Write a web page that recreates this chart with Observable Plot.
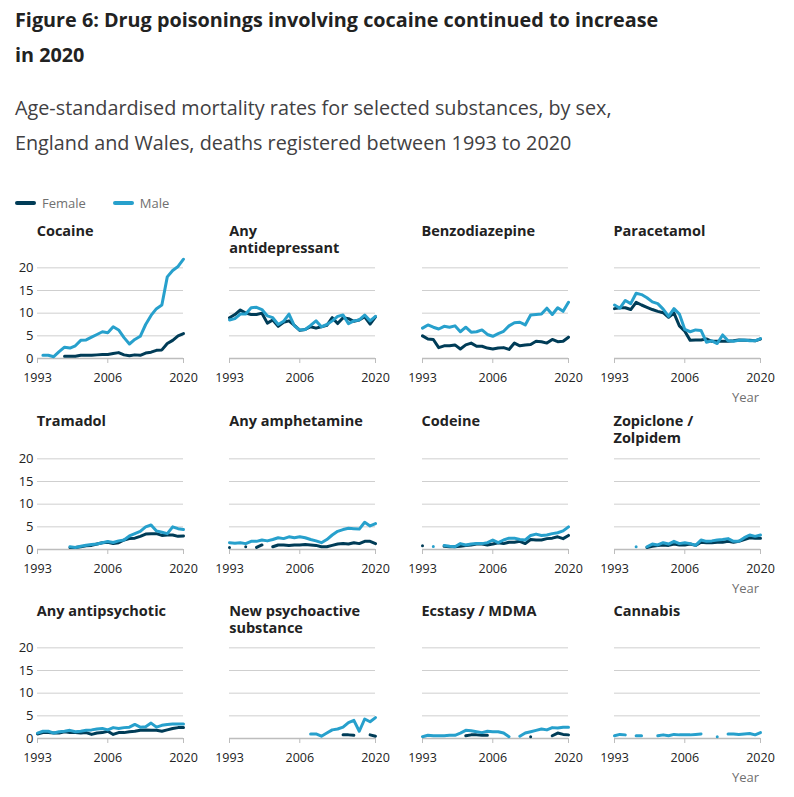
<!DOCTYPE html>
<html><head><meta charset="utf-8">
<script src="https://cdn.jsdelivr.net/npm/d3@7"></script>
<script src="https://cdn.jsdelivr.net/npm/@observablehq/plot@0.6"></script>
<style>
body{margin:0;background:#fff;font-family:"Open Sans",sans-serif;}
#root{position:relative;width:794px;height:797px;overflow:hidden;}
.title{position:absolute;left:15px;top:2px;font-size:19.8px;font-weight:700;line-height:35px;color:#222;white-space:nowrap;}
.sub{position:absolute;left:15px;top:90px;font-size:19.8px;line-height:35px;color:#414042;white-space:nowrap;}
.legend{position:absolute;left:15px;top:194px;font-size:13px;color:#707070;display:flex;align-items:center;height:18px;}
.legend .sw{display:inline-block;width:21px;height:4px;border-radius:2px;margin-right:6px;}
.legend .item{display:flex;align-items:center;margin-right:27px;}
.ptitle{position:absolute;font-size:14.5px;font-weight:700;line-height:17px;color:#222;}
.plot{position:absolute;}
.year{position:absolute;font-size:13px;color:#707070;line-height:16px;}
</style></head>
<body><div id="root">
<div class="title">Figure 6: Drug poisonings involving cocaine continued to increase<br>in 2020</div>
<div class="sub">Age-standardised mortality rates for selected substances, by sex,<br>England and Wales, deaths registered between 1993 to 2020</div>
</div>
<script>
const years = d3.range(1993, 2021);
const sexes = ["Female", "Male"];
const colors = ["#003c57", "#27a0cc"];
const xTicks = [1993, 2006, 2020];
const yTicks = [0, 5, 10, 15, 20];
const titles = ["Cocaine", "Any\nantidepressant", "Benzodiazepine", "Paracetamol",
  "Tramadol", "Any amphetamine", "Codeine", "Zopiclone /\nZolpidem",
  "Any antipsychotic", "New psychoactive\nsubstance", "Ecstasy / MDMA", "Cannabis"];
const N = null;
const cocaineF = [N,N,N,N,N,0.5,0.5,0.5,0.7,0.7,0.7,0.8,0.9,0.9,1.1,1.3,0.8,0.6,0.8,0.7,1.2,1.4,1.8,1.9,3.3,4.0,5.0,5.5];
const cocaineM = [N,0.7,0.7,0.4,1.5,2.5,2.3,2.8,4.0,4.1,4.7,5.3,5.9,5.7,7.0,6.3,4.6,3.2,4.2,4.9,7.5,9.5,11.0,11.8,18.0,19.4,20.3,21.9];
const antidepF = [9.0,9.7,10.7,10.0,9.7,9.7,10.0,7.8,8.5,7.1,8.0,8.3,7.3,6.2,6.4,7.0,6.7,7.0,7.3,9.0,7.7,9.0,8.8,8.2,8.5,9.2,7.6,9.2];
const antidepM = [8.5,8.8,9.8,9.8,11.2,11.3,10.8,9.4,9.0,7.5,8.2,9.8,7.2,6.3,6.4,7.3,8.3,7.0,7.5,8.3,9.3,9.6,7.7,8.3,8.5,9.6,8.3,9.3];
const benzoF = [5.0,4.3,4.2,2.4,2.8,2.8,3.0,2.1,3.0,3.4,2.7,2.7,2.3,2.1,2.3,2.4,2.0,3.4,2.8,3.0,3.1,3.8,3.7,3.4,4.2,3.7,3.8,4.7];
const benzoM = [6.7,7.4,6.9,6.5,7.1,6.9,7.2,5.9,6.9,5.8,5.9,6.3,5.3,4.9,5.5,6.0,7.2,7.9,8.0,7.4,9.6,9.7,9.8,11.1,9.7,11.2,10.4,12.4];
const paraF = [11.0,11.2,11.2,10.8,12.4,11.8,11.3,10.8,10.4,10.1,9.1,10.0,7.2,6.0,4.0,4.1,4.1,4.3,3.8,3.8,3.8,3.8,3.9,4.1,4.0,4.0,3.9,4.3];
const paraM = [11.8,11.1,12.8,12.1,14.4,14.1,13.4,12.5,12.1,10.9,9.3,11.0,9.8,6.4,5.9,6.3,6.2,3.6,3.9,3.3,5.2,3.9,3.8,4.0,4.1,3.9,3.9,4.4];
const tramadolF = [N,N,N,N,N,N,0.45,0.45,0.6,0.8,0.9,1.2,1.5,1.6,1.3,1.5,2.1,2.4,2.5,2.9,3.4,3.5,3.5,3.1,3.2,3.2,2.9,3.0];
const tramadolM = [N,N,N,N,N,N,0.6,0.45,0.7,0.95,1.1,1.2,1.5,1.75,1.55,1.9,2.1,3.0,3.5,4.0,5.0,5.4,4.1,3.8,3.5,5.0,4.6,4.4];
const amphF = [0.45,N,N,0.6,N,0.45,1.0,N,0.6,1.0,1.0,0.9,1.0,1.0,1.1,1.0,0.9,0.6,0.6,0.9,1.2,1.3,1.2,1.5,1.3,1.8,1.8,1.3];
const amphM = [1.5,1.4,1.5,1.3,1.8,1.8,2.1,1.9,2.2,2.6,2.4,2.8,2.6,2.8,2.6,2.2,1.9,1.5,2.2,3.2,4.0,4.4,4.7,4.6,4.5,6.0,5.2,5.7];
const codeineF = [0.8,N,N,N,0.7,0.6,0.6,0.7,0.9,1.0,1.2,1.2,1.0,1.2,1.5,1.3,1.6,1.6,1.8,1.3,2.2,2.1,2.1,2.4,2.5,2.8,2.4,3.1];
const codeineM = [N,N,0.65,N,0.9,0.7,0.6,1.3,1.0,1.2,1.3,1.3,1.5,2.1,1.5,2.1,2.5,2.5,2.2,2.1,3.1,3.4,3.1,3.2,3.5,3.7,4.1,5.0];
const zopF = [N,N,N,N,N,N,0.45,0.7,0.9,1.0,0.9,1.2,1.0,1.0,1.2,0.9,1.6,1.5,1.5,1.6,1.6,1.8,1.6,1.8,2.2,2.6,2.5,2.5];
const zopM = [N,N,N,N,0.6,N,0.6,1.2,1.0,1.5,1.2,1.8,1.3,1.5,1.3,0.9,2.1,1.8,1.9,2.1,2.2,2.4,1.8,1.8,2.6,3.2,2.9,3.2];
const antipsyF = [1.0,1.3,1.3,1.2,1.2,1.5,1.3,1.3,1.2,1.3,0.9,1.2,1.3,1.6,0.9,1.3,1.3,1.5,1.6,1.8,1.9,1.8,1.8,1.6,1.9,2.2,2.4,2.4];
const antipsyM = [1.2,1.6,1.6,1.2,1.5,1.6,1.8,1.5,1.6,1.8,1.9,2.1,2.2,1.9,2.4,2.2,2.4,2.5,3.1,2.5,2.6,3.4,2.5,2.9,3.1,3.2,3.2,3.2];
const npsF = [N,N,N,N,N,N,N,N,N,N,N,N,N,N,N,N,N,N,N,N,N,0.8,0.8,0.7,N,N,0.8,0.5];
const npsM = [N,N,N,N,N,N,N,N,N,N,N,N,N,N,N,1.0,1.0,0.5,1.2,1.9,2.1,2.5,3.5,4.0,1.6,4.3,3.7,4.6];
const ecstasyF = [N,N,N,N,N,N,N,N,0.6,0.8,0.8,0.7,0.7,N,N,N,N,N,N,N,0.4,N,N,N,0.6,1.2,0.9,0.8];
const ecstasyM = [0.4,0.7,0.6,0.6,0.6,0.7,0.7,1.2,1.8,1.7,1.5,1.3,1.6,1.5,1.5,1.2,0.4,N,0.5,1.2,1.5,1.8,2.1,1.9,2.4,2.3,2.5,2.5];
const cannabisF = years.map(() => N);
const cannabisM = [0.6,0.9,0.8,N,0.6,0.6,N,N,0.6,0.8,0.6,0.9,0.8,0.8,0.8,0.9,1.0,N,N,0.4,N,1.0,1.0,0.9,1.0,1.1,0.8,1.3];

const series = [
  [cocaineF, cocaineM], [antidepF, antidepM], [benzoF, benzoM], [paraF, paraM],
  [tramadolF, tramadolM], [amphF, amphM], [codeineF, codeineM], [zopF, zopM],
  [antipsyF, antipsyM], [npsF, npsM], [ecstasyF, ecstasyM], [cannabisF, cannabisM]
];

const root = document.getElementById("root");
// legend
const leg = document.createElement("div");
leg.className = "legend";
sexes.forEach((s, i) => {
  const it = document.createElement("span");
  it.className = "item";
  it.innerHTML = `<span class="sw" style="background:${colors[i]}"></span>${s}`;
  leg.appendChild(it);
});
root.appendChild(leg);

const colLeft = [36.7, 229.2, 421.5, 613.5];
const rowZero = [358.3, 548.5, 738.3];
const mL = 30, mR = 15, mT = 8, mB = 26, inner = 146, innerH = 102;

series.forEach(([f, m], k) => {
  const col = k % 4, row = Math.floor(k / 4);
  const data = [];
  years.forEach((y, i) => data.push({year: y, value: f[i], sex: "Female"}));
  years.forEach((y, i) => data.push({year: y, value: m[i], sex: "Male"}));
  const t = document.createElement("div");
  t.className = "ptitle";
  t.style.left = colLeft[col] + "px";
  t.style.top = (rowZero[row] - 136.5) + "px";
  t.innerHTML = titles[k].replace("\n", "<br>");
  root.appendChild(t);
  const chart = Plot.plot({
    width: mL + inner + mR,
    height: mT + innerH + mB,
    marginLeft: mL, marginRight: mR, marginTop: mT, marginBottom: mB,
    style: {fontFamily: "Open Sans", fontSize: "12.5px", color: "#222", background: "transparent", overflow: "visible"},
    x: {domain: [1993, 2020]},
    y: {domain: [0, 22.5]},
    color: {domain: sexes, range: colors},
    marks: [
      Plot.gridY([5, 10, 15, 20], {stroke: "#cfcfcf", strokeOpacity: 1}),
      Plot.ruleY([0], {stroke: "#bdbdbd", strokeWidth: 1.5}),
      Plot.axisX(xTicks, {tickSize: 5, tickPadding: 10, stroke: "#bdbdbd", fill: "#222", tickFormat: d => String(d), label: null}),
      col === 0
        ? Plot.axisY(yTicks, {tickSize: 0, tickPadding: 4, fill: "#222", label: null, fontSize: 13})
        : Plot.axisY([], {label: null}),
      Plot.line(data, {x: "year", y: "value", z: "sex", stroke: "sex", strokeWidth: 3, strokeLinecap: "round", strokeLinejoin: "round"})
    ]
  });
  const wrap = document.createElement("div");
  wrap.className = "plot";
  wrap.style.left = (colLeft[col] - mL) + "px";
  wrap.style.top = (rowZero[row] - mT - innerH) + "px";
  wrap.appendChild(chart);
  root.appendChild(wrap);
});

rowZero.forEach(z => {
  const y = document.createElement("div");
  y.className = "year";
  y.textContent = "Year";
  y.style.left = "732px";
  y.style.top = (z + 31) + "px";
  root.appendChild(y);
});
</script>
</body></html>
